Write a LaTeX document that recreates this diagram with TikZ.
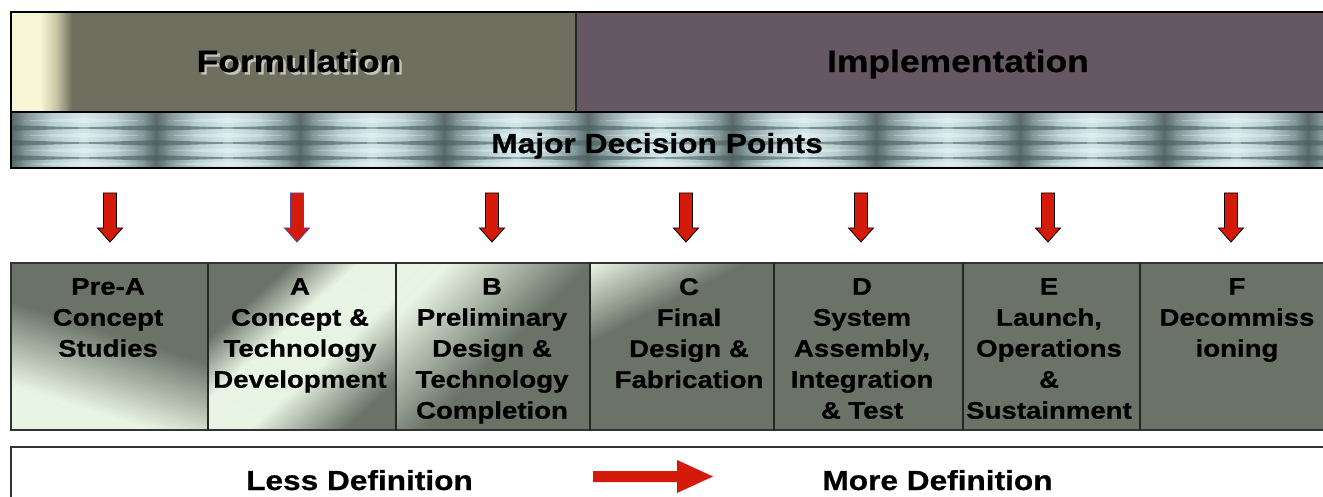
\documentclass[tikz,border=0pt]{standalone}
\usepackage{fontspec}
\newfontfamily\lsans{Liberation Sans}[FakeStretch=1.15, BoldFeatures={FakeBold=0.7}]
\definecolor{formc}{HTML}{6E6F5F}
\definecolor{implc}{HTML}{655862}
\definecolor{cream}{HTML}{F7F7D8}
\definecolor{creammid}{HTML}{C8C6A4}
\definecolor{phasec}{HTML}{6B7368}
\definecolor{mint}{HTML}{E8F4E4}
\definecolor{arrred}{HTML}{D41A08}
\definecolor{banddark}{HTML}{5A6B6B}
\definecolor{bandmid}{HTML}{859B9D}
\definecolor{bandlight}{HTML}{B8CFD2}
\definecolor{bandhi}{HTML}{D2E7EA}
\definecolor{bandline}{HTML}{4A5C5C}
\definecolor{shadowc}{HTML}{C4C4BA}
\definecolor{blueline}{HTML}{4A48A8}
\pgfdeclarehorizontalshading{bandtile}{100bp}{color(0bp)=(banddark); color(25bp)=(banddark); color(30bp)=(bandmid); color(39bp)=(bandlight); color(50bp)=(bandhi); color(61bp)=(bandlight); color(70bp)=(bandmid); color(75bp)=(banddark); color(100bp)=(banddark)}
\tikzset{
  frame/.style={draw=black, line width=1.4pt},
  sep/.style={draw=black!85, line width=1.2pt},
  phase/.style={anchor=north, align=center, inner sep=0pt, text=black,
    font=\lsans\bfseries\fontsize{24}{31}\selectfont},
  title/.style={anchor=base, inner sep=0pt, font=\lsans\bfseries\fontsize{30.8}{36}\selectfont},
  band/.style={anchor=base, inner sep=0pt, font=\lsans\bfseries\fontsize{27.6}{32}\selectfont},
  deflabel/.style={anchor=base, inner sep=0pt, font=\lsans\bfseries\fontsize{27.5}{32}\selectfont},
  dnarrow/.style={fill=arrred, line width=0.8pt, line join=miter},
}
% gradient box: #1 x0, #2 x1, #3 ux, #4 uy (unit direction, image coords), #5 mint percentage as function of \d
\newcommand\gradbox[5]{%
  \begin{scope}
  \clip (#1,263) rectangle (#2,430);
  \pgfmathsetmacro\gcx{(#1+#2)/2}
  \foreach \d in {-140,-138,...,140}{
    \pgfmathtruncatemacro\tv{max(0,min(100,#5))}
    \fill[mint!\tv!phasec]
      ({\gcx+\d*#3+160*#4},{346.5+\d*#4-160*#3}) --
      ({\gcx+(\d+2.5)*#3+160*#4},{346.5+(\d+2.5)*#4-160*#3}) --
      ({\gcx+(\d+2.5)*#3-160*#4},{346.5+(\d+2.5)*#4+160*#3}) --
      ({\gcx+\d*#3-160*#4},{346.5+\d*#4+160*#3}) -- cycle;
  }
  \end{scope}}
\begin{document}
\begin{tikzpicture}[x=1pt,y=-1pt]
\useasboundingbox (0,0) rectangle (1323,497);
% ---------- top bar ----------
\fill[formc] (11,12) rectangle (576,112);
\fill[cream] (11,12) rectangle (40,112);
\shade[left color=cream, right color=formc, middle color=creammid] (40,12) rectangle (72,112);
\fill[implc] (576,12) rectangle (1330,112);
% ---------- decision band ----------
\begin{scope}
\clip (11,112) rectangle (1330,168);
\foreach \i in {0,...,9}{
  \pgfmathsetmacro\xa{12+144*\i}
  \pgfmathsetmacro\xc{\xa+72}
  \pgfmathsetmacro\xb{\xa+144}
  \shade[shading=bandtile] (\xa,112) rectangle (\xb,168);
  \foreach \yy in {128,143,158}{
    \fill[bandline, opacity=.6] (\xa,\yy-2.8) -- (\xc,\yy-0.6) -- (\xb,\yy-2.8) -- (\xb,\yy+2.8) -- (\xc,\yy+0.6) -- (\xa,\yy+2.8) -- cycle;
  }
  \foreach \yy in {120.5,135.5,150.5,164}{
    \fill[white, opacity=.3] (\xa+12,\yy) -- (\xc,\yy-2.4) -- (\xb-12,\yy) -- (\xc,\yy+2.4) -- cycle;
  }
}
\end{scope}
\draw[frame] (11,12) rectangle (1330,112);
\draw[frame] (11,112) rectangle (1330,168);
\draw[sep] (576,12) -- (576,112);
\node[title, text=shadowc] (formsh) at (301.5,74.5) {Formulation};
\node[title] (form) at (299,72) {Formulation};
\node[title] (impl) at (958,72) {Implementation};
\node[band] (mdp) at (657,153) {Major Decision Points};
% ---------- down arrows ----------
\foreach \x/\c in {110/black, 297/blueline, 492/black, 686/black, 861/black, 1048/black, 1231/black}{
  \draw[dnarrow, draw=\c, shift={(\x,0)}] (-6.5,193) -- (6.5,193) -- (6.5,228) -- (12.5,228) -- (0,242) -- (-12.5,228) -- (-6.5,228) -- cycle;
}
% ---------- phase boxes ----------
\fill[phasec] (11,263) rectangle (1330,430);
\gradbox{11}{208}{-0.3}{0.954}{(\d+15)*1.25}
\gradbox{208}{396}{0.67}{0.742}{min((\d+70)*2.2,(90-\d)*1.55)}
\gradbox{396}{590}{0.707}{0.707}{10-\d}
\gradbox{590}{774}{0.45}{0.893}{(-45-\d)*1.43}
\draw[frame, draw=black!80] (11,263) rectangle (1330,430);
\foreach \x in {208,396,590,774,963,1140}{
  \draw[sep] (\x,263) -- (\x,431);
}
\node[phase] (prea) at (108,278) {Pre-A\\Concept\\Studies};
\node[phase] (pa) at (300,278) {A\\Concept \&\\Technology\\Development};
\node[phase] (pb) at (492,278) {B\\Preliminary\\Design \&\\Technology\\Completion};
\node[phase] (pc) at (689,278) {C\\Final\\Design \&\\Fabrication};
\node[phase] (pd) at (862,278) {D\\System\\Assembly,\\Integration\\\& Test};
\node[phase] (pe) at (1049,278) {E\\Launch,\\Operations\\\&\\Sustainment};
\node[phase] (pf) at (1237,278) {F\\Decommiss\\ioning};
% ---------- definition bar ----------
\draw[frame, draw=black!80] (11,447) rectangle (1330,510);
\node[deflabel] (less) at (359.5,490) {Less Definition};
\node[deflabel] (more) at (937.5,490) {More Definition};
\fill[arrred] (593,471) -- (677,471) -- (677,460) -- (713,476.5) -- (677,493) -- (677,482) -- (593,482) -- cycle;
\end{tikzpicture}
\end{document}
